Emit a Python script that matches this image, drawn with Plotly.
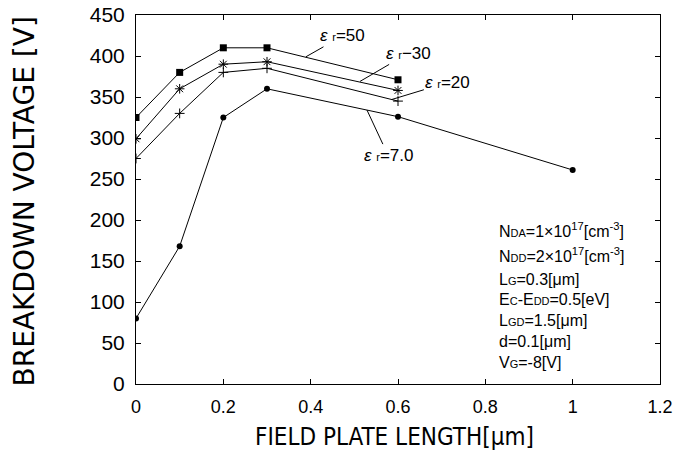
import plotly.graph_objects as go

x_main = [0, 0.1, 0.2, 0.3, 0.6]
x_er7 = [0, 0.1, 0.2, 0.3, 0.6, 1.0]
y_er50 = [325, 380, 410, 410, 371]
y_er30 = [299, 360, 390, 393, 358]
y_er20 = [275, 330, 380, 385, 345]
y_er7 = [80, 168, 325, 360, 326, 261]

x_ticks = [0, 0.2, 0.4, 0.6, 0.8, 1.0, 1.2]
x_ticklabels = ["0", "0.2", "0.4", "0.6", "0.8", "1", "1.2"]
y_ticks = list(range(0, 451, 50))

S = "<span style='font-size:11px'>{}</span>"
params = [
    "N" + S.format("DA") + "=1×10<sup>17</sup>[cm<sup>-3</sup>]",
    "N" + S.format("DD") + "=2×10<sup>17</sup>[cm<sup>-3</sup>]",
    "L" + S.format("G") + "=0.3[μm]",
    "E" + S.format("C") + "-E" + S.format("DD") + "=0.5[eV]",
    "L" + S.format("GD") + "=1.5[μm]",
    "d=0.1[μm]",
    "V" + S.format("G") + "=-8[V]",
]
param_y = [188, 157, 128, 103, 78, 52, 26]

FONT = "Liberation Sans, Arial, sans-serif"

fig = go.Figure()
line = dict(color="black", width=1)
fig.add_trace(go.Scatter(x=x_main, y=y_er50, mode="lines+markers", line=line,
                         marker=dict(symbol="square", size=7, color="black")))
fig.add_trace(go.Scatter(x=x_main, y=y_er30, mode="lines+markers", line=line,
                         marker=dict(symbol="asterisk-open", size=8, color="black",
                                     line=dict(color="black", width=1))))
fig.add_trace(go.Scatter(x=x_main, y=y_er20, mode="lines+markers", line=line,
                         marker=dict(symbol="cross-thin-open", size=7, color="black",
                                     line=dict(color="black", width=1))))
fig.add_trace(go.Scatter(x=x_er7, y=y_er7, mode="lines+markers", line=line,
                         marker=dict(symbol="circle", size=6, color="black")))

R = "<span style='font-size:11px'>r</span>"
labels = [
    ("<i>ε</i> " + R + "=50", 0.389, 399, 37, -21),
    ("<i>ε</i> " + R + "−30", 0.513, 369, 48, -28),
    ("<i>ε</i> " + R + "=20", 0.586, 347, 56, -17),
    ("<i>ε</i> " + R + "=7.0", 0.529, 334, 21, 45),
]
for txt, ax_, ay_, dx, dy in labels:
    fig.add_annotation(x=ax_, y=ay_, ax=dx, ay=dy, text=txt, showarrow=True,
                       arrowhead=0, arrowwidth=1, arrowcolor="black",
                       font=dict(family=FONT, size=17, color="black"))

for t, yv in zip(params, param_y):
    fig.add_annotation(x=0.826, y=yv, text=t, showarrow=False, xanchor="left",
                       yanchor="middle", font=dict(family=FONT, size=16, color="black"))

# axis titles
fig.add_annotation(xref="paper", yref="paper", x=0.494, y=-0.144,
                   text="FIELD PLATE LENGTH[μm]", showarrow=False,
                   xanchor="center", yanchor="middle",
                   font=dict(family="DejaVu Sans Condensed, Liberation Sans", size=24,
                             color="black"))
fig.add_annotation(xref="paper", yref="paper", x=-0.2137, y=0.4946,
                   text="BREAKDOWN VOLTAGE [V]", showarrow=False, textangle=-90,
                   xanchor="center", yanchor="middle",
                   font=dict(family="DejaVu Sans, Liberation Sans", size=28, color="black"))

axis_common = dict(showline=True, linecolor="black", linewidth=1, mirror="ticks",
                   ticks="inside", ticklen=5, tickcolor="black", showgrid=False,
                   zeroline=False, automargin=False)

fig.update_layout(
    width=686, height=457, autosize=False,
    margin=dict(l=136, r=26, t=15, b=73),
    plot_bgcolor="white", paper_bgcolor="white",
    showlegend=False,
    font=dict(family=FONT, color="black"),
    xaxis=dict(range=[0, 1.2], tickvals=x_ticks, ticktext=x_ticklabels,
               tickfont=dict(family=FONT, size=18, color="black"),
               ticklabelstandoff=6,
               **axis_common),
    yaxis=dict(range=[0, 450], tickvals=y_ticks,
               tickfont=dict(family=FONT, size=21, color="black"),
               ticklabelstandoff=6,
               **axis_common),
)

fig.write_html("out.html", config={"displayModeBar": False},
               post_script="document.body.style.margin='0px';")
